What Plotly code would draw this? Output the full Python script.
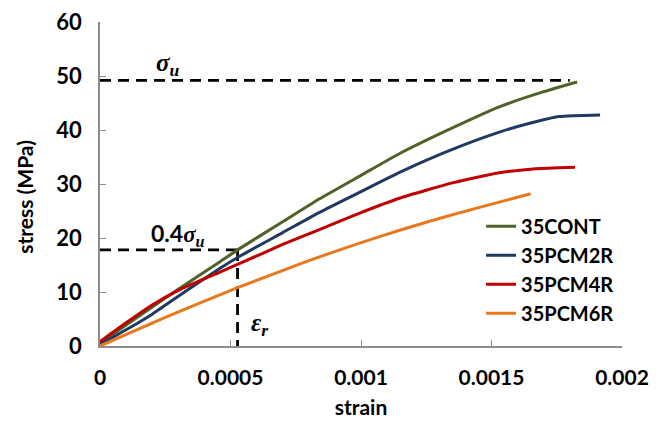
import plotly.graph_objects as go

# ---- data ----
cont_x = [0, 0.0001, 0.0002, 0.0003, 0.00046, 0.000527, 0.0007, 0.000843, 0.001, 0.00115, 0.00135, 0.00153, 0.0017, 0.001828]
cont_y = [0.5, 3.9, 7.2, 10.5, 15.6, 17.8, 23.0, 27.3, 31.6, 35.7, 40.4, 44.3, 47.1, 48.9]

pcm2_x = [0, 0.0001, 0.0002, 0.0003, 0.00046, 0.000527, 0.0007, 0.000843, 0.001, 0.00115, 0.00135, 0.00153, 0.00165, 0.00176, 0.001916]
pcm2_y = [0.3, 3.0, 5.9, 9.2, 14.4, 16.4, 21.0, 24.8, 28.6, 32.2, 36.4, 39.6, 41.3, 42.5, 42.8]

pcm4_x = [0, 0.0001, 0.0002, 0.0003, 0.00046, 0.000527, 0.0007, 0.000843, 0.001, 0.00115, 0.00135, 0.00153, 0.00166, 0.00182]
pcm4_y = [0.8, 4.3, 7.6, 10.3, 13.7, 15.1, 18.8, 21.6, 24.7, 27.4, 30.2, 32.1, 32.8, 33.1]

pcm6_x = [0, 0.00025, 0.000527, 0.0008, 0.00108, 0.00135, 0.00165]
pcm6_y = [0.0, 5.3, 10.8, 15.8, 20.4, 24.3, 28.2]

series_names = ["35CONT", "35PCM2R", "35PCM4R", "35PCM6R"]
series_colors = ["#4F6228", "#1F3A60", "#C00000", "#E8781E"]

sigma_u = 49.2
sigma_u_end = 0.0018
sigma_04 = 17.8
eps_r = 0.000527

x_tickvals = [0, 0.0005, 0.001, 0.0015, 0.002]
x_ticktext = ["0", "0.0005", "0.001", "0.0015", "0.002"]
y_tickvals = [0, 10, 20, 30, 40, 50, 60]

FONT = "Lato"
SERIF = "Liberation Serif"

fig = go.Figure()

# dashed reference lines
dash_style = dict(color="black", width=2.8, dash="11px,7px")
fig.add_trace(go.Scatter(x=[0, sigma_u_end], y=[sigma_u, sigma_u], mode="lines",
                         line=dash_style, showlegend=False, hoverinfo="skip"))
fig.add_trace(go.Scatter(x=[0, eps_r], y=[sigma_04, sigma_04], mode="lines",
                         line=dash_style, showlegend=False, hoverinfo="skip"))
fig.add_trace(go.Scatter(x=[eps_r, eps_r], y=[sigma_04, 0], mode="lines",
                         line=dash_style, showlegend=False, hoverinfo="skip"))

for name, xs, ys, c in zip(series_names,
                           [cont_x, pcm2_x, pcm4_x, pcm6_x],
                           [cont_y, pcm2_y, pcm4_y, pcm6_y],
                           series_colors):
    fig.add_trace(go.Scatter(x=xs, y=ys, mode="lines", name=name, legendgroup=name,
                             line=dict(color=c, width=3, shape="spline", smoothing=0.5)))

# text labels
fig.add_annotation(x=0.00026, y=52.1, text="<i>σ<sub>u</sub></i>", showarrow=False,
                   font=dict(family=SERIF, size=25, color="black", weight="bold"))
fig.add_annotation(x=0.0003, y=20.7,
                   text=f"<b>0.4</b><span style='font-family:{SERIF}'><i><b>σ<sub>u</sub></b></i></span>",
                   showarrow=False, font=dict(family=FONT, size=23, color="black"))
fig.add_annotation(x=0.00061, y=3.9, text="<i>ε<sub>r</sub></i>", showarrow=False,
                   font=dict(family=SERIF, size=25, color="black", weight="bold"))

# y-axis title placed like the reference
fig.add_annotation(xref="paper", yref="paper", x=-0.144, y=0.46, text="<b>stress (MPa)</b>",
                   textangle=-90, showarrow=False, xanchor="center", yanchor="middle",
                   font=dict(family=FONT, size=21, color="black"))

fig.update_layout(
    width=670, height=433,
    margin=dict(l=100, r=48, t=22, b=87),
    paper_bgcolor="white", plot_bgcolor="white",
    font=dict(family=FONT, size=21, color="black"),
    showlegend=True,
    legend=dict(x=0.73, y=0.43, xanchor="left", yanchor="top",
                font=dict(family=FONT, size=20, color="black", weight="bold"),
                bgcolor="rgba(0,0,0,0)", tracegroupgap=0, itemwidth=30),
    xaxis=dict(range=[0, 0.002], tickvals=x_tickvals, ticktext=x_ticktext, automargin=False,
               showgrid=False, zeroline=False, showline=True, linecolor="#8C8C8C", linewidth=1.5,
               ticks="inside", ticklen=6, tickcolor="#8C8C8C", ticklabelstandoff=12,
               tickfont=dict(family=FONT, size=21, weight="bold"),
               title=dict(text="<b>strain</b>", font=dict(family=FONT, size=21), standoff=12)),
    yaxis=dict(range=[0, 60], tickvals=y_tickvals, automargin=False,
               showgrid=False, zeroline=False, showline=True, linecolor="#8C8C8C", linewidth=1.5,
               ticks="inside", ticklen=6, tickcolor="#8C8C8C", ticklabelstandoff=12,
               tickfont=dict(family=FONT, size=22, weight="bold")),
)

fig.write_html("out.html", config={"displayModeBar": False},
               post_script="document.body.style.margin='0';")
